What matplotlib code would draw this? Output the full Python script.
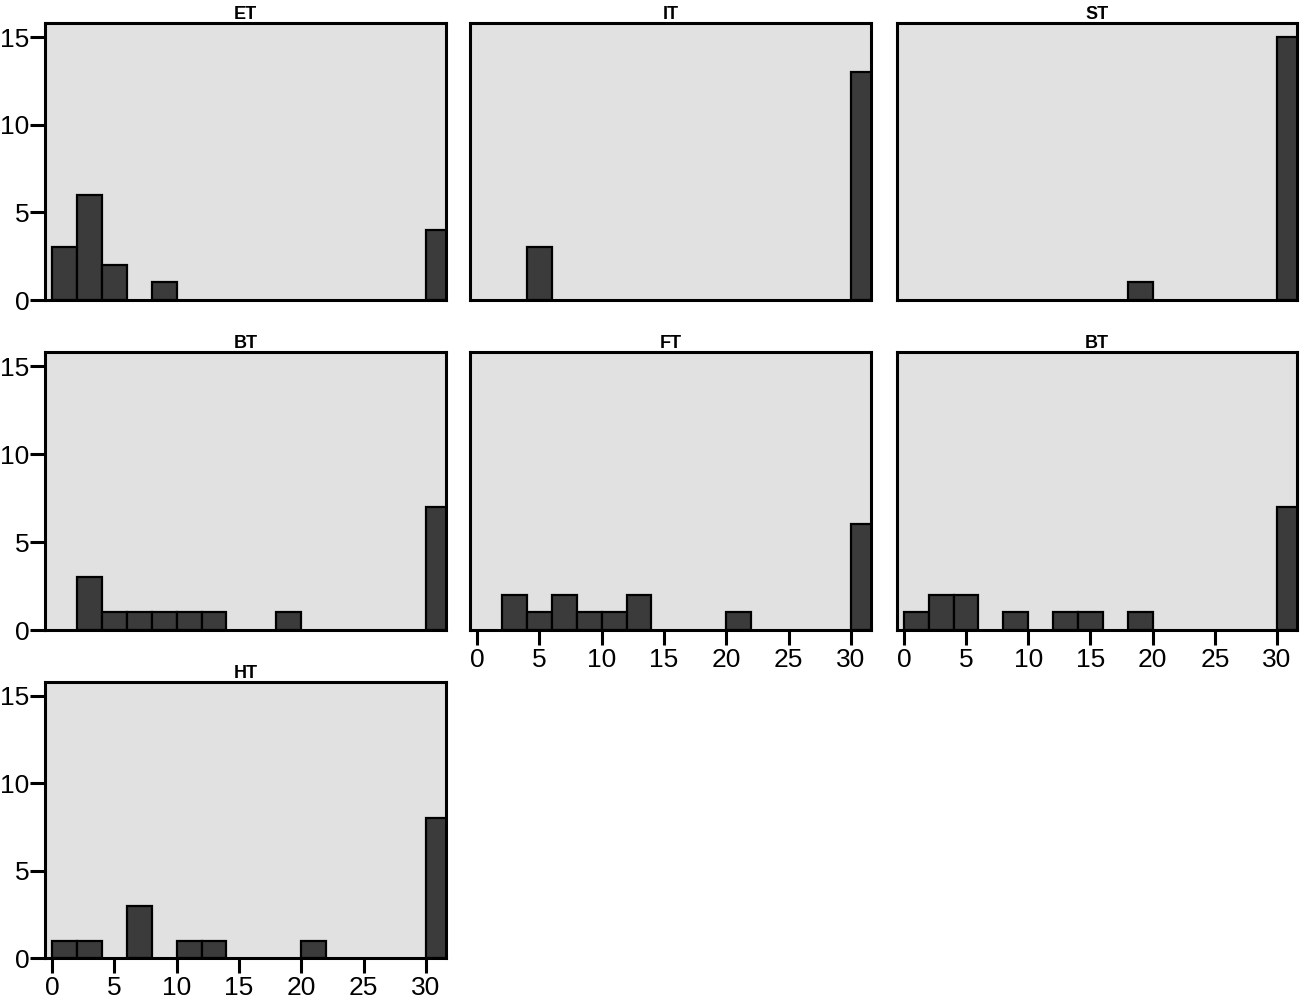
import numpy as np
import matplotlib
matplotlib.use('Agg')
import matplotlib.pyplot as plt

plt.rcParams['font.family'] = ['Liberation Sans', 'DejaVu Sans']

# histogram bins of width 2, 0..32
bin_edges = np.arange(0, 34, 2)

titles = ['ET', 'IT', 'ST', 'BT', 'FT', 'BT', 'HT']
counts_et  = [3, 6, 2, 0, 1, 0, 0, 0, 0, 0, 0, 0, 0, 0, 0, 4]
counts_it  = [0, 0, 3, 0, 0, 0, 0, 0, 0, 0, 0, 0, 0, 0, 0, 13]
counts_st  = [0, 0, 0, 0, 0, 0, 0, 0, 0, 1, 0, 0, 0, 0, 0, 15]
counts_bt  = [0, 3, 1, 1, 1, 1, 1, 0, 0, 1, 0, 0, 0, 0, 0, 7]
counts_ft  = [0, 2, 1, 2, 1, 1, 2, 0, 0, 0, 1, 0, 0, 0, 0, 6]
counts_bt2 = [1, 2, 2, 0, 1, 0, 1, 1, 0, 1, 0, 0, 0, 0, 0, 7]
counts_ht  = [1, 1, 0, 3, 0, 1, 1, 0, 0, 0, 1, 0, 0, 0, 0, 8]
all_counts = [counts_et, counts_it, counts_st, counts_bt, counts_ft, counts_bt2, counts_ht]

y_ticks = [0, 5, 10, 15]
x_ticks = [0, 5, 10, 15, 20, 25, 30]

W, H = 1303, 1008
fig = plt.figure(figsize=(W / 100, H / 100), dpi=100)

# panel boxes in pixels: (left, right), (top, bottom)
cols = [(45, 446), (470, 871), (897, 1297)]
rows = [(23, 300), (352, 630), (682, 958)]

BG = '#e1e1e1'
BAR = '#3b3b3b'

for k, (title, cnt) in enumerate(zip(titles, all_counts)):
    r, c = divmod(k, 3)
    (l, rt), (t, b) = cols[c], rows[r]
    ax = fig.add_axes([l / W, 1 - b / H, (rt - l) / W, (b - t) / H])
    ax.set_facecolor(BG)
    cnt = np.array(cnt)
    nz = cnt > 0
    ax.bar(bin_edges[:-1][nz], cnt[nz], width=2, align='edge',
           color=BAR, edgecolor='black', linewidth=1.6, zorder=2)
    ax.set_xlim(-0.55, 31.6)
    ax.set_ylim(0, 15.8)
    for s in ax.spines.values():
        s.set_linewidth(2.2)
        s.set_color('black')
    ax.set_title(title, fontsize=13, fontweight='bold', pad=0)
    # y axis only on first column
    if c == 0:
        ax.set_yticks(y_ticks)
        ax.tick_params(axis='y', length=11, width=2.2, labelsize=19, pad=0)
    else:
        ax.set_yticks([])
    # x axis only on bottom-most panel of each column
    if k in (4, 5, 6):
        ax.set_xticks(x_ticks)
        ax.tick_params(axis='x', length=11, width=2.2, labelsize=19, pad=2)
    else:
        ax.set_xticks([])

fig.savefig('out.png', dpi=100)
